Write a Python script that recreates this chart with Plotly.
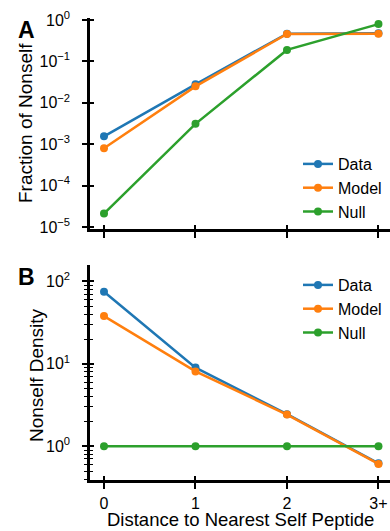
import plotly.graph_objects as go

categories = ["0", "1", "2", "3+"]
xpos = [0, 1, 2, 3]

frac_data = [1.55e-3, 0.028, 0.47, 0.48]
frac_model = [8.0e-4, 0.025, 0.46, 0.47]
frac_null = [2.1e-5, 3.1e-3, 0.19, 0.80]

dens_data = [75, 9.0, 2.45, 0.62]
dens_model = [38, 8.1, 2.42, 0.61]
dens_null = [1, 1, 1, 1]

fracA_tickvals = [1e-5, 1e-4, 1e-3, 1e-2, 1e-1, 1]
fracA_ticktext = ["10<sup>−5</sup>", "10<sup>−4</sup>", "10<sup>−3</sup>",
                  "10<sup>−2</sup>", "10<sup>−1</sup>", "10<sup>0</sup>"]
densB_tickvals = [1, 10, 100]
densB_ticktext = ["10<sup>0</sup>", "10<sup>1</sup>", "10<sup>2</sup>"]

colors = {"Data": "#1f77b4", "Model": "#ff7f0e", "Null": "#2ca02c"}

W, H = 390, 531
ML, MR, MT, MB = 90, 0, 18, 51
PW, PH = W - ML - MR, H - MT - MB


def px_x(px):
    return (px - ML) / PW


def px_y(py):
    return (H - MB - py) / PH


domA = [px_y(229), 1.0]
domB = [0.0, px_y(265)]
xrange_ = [-0.153, 3.126]

FONT = "Liberation Sans, Arial, sans-serif"
fig = go.Figure()

for name, vals in [("Data", frac_data), ("Model", frac_model), ("Null", frac_null)]:
    fig.add_trace(go.Scatter(x=xpos, y=vals, mode="lines+markers", name=name,
                             line=dict(color=colors[name], width=2.5),
                             marker=dict(size=8, color=colors[name]),
                             xaxis="x", yaxis="y", legend="legend",
                             legendgroup="a" + name))
for name, vals in [("Data", dens_data), ("Model", dens_model), ("Null", dens_null)]:
    fig.add_trace(go.Scatter(x=xpos, y=vals, mode="lines+markers", name=name,
                             line=dict(color=colors[name], width=2.5),
                             marker=dict(size=8, color=colors[name]),
                             xaxis="x2", yaxis="y2", legend="legend2",
                             legendgroup="b" + name))
fig.add_trace(go.Scatter(x=[None], y=[None], xaxis="x3", yaxis="y3", showlegend=False))
fig.add_trace(go.Scatter(x=[None], y=[None], xaxis="x4", yaxis="y4", showlegend=False))

tickfont = dict(family=FONT, size=16, color="black")
axcommon = dict(showgrid=False, zeroline=False, linecolor="black", linewidth=2.5,
                tickcolor="black", tickwidth=2, tickfont=tickfont)
ovcommon = dict(showticklabels=False, showline=False, showgrid=False, zeroline=False,
                ticks="inside", ticklen=4, tickcolor="black", tickwidth=2)


def label(text, x, y, size, angle=0, bold=False):
    return dict(text=f"<b>{text}</b>" if bold else text, x=px_x(x), y=px_y(y),
                xref="paper", yref="paper", xanchor="center", yanchor="middle",
                textangle=angle, showarrow=False,
                font=dict(family=FONT, size=size, color="black"))


fig.update_layout(
    width=W, height=H,
    margin=dict(l=ML, r=MR, t=MT, b=MB),
    paper_bgcolor="white", plot_bgcolor="white",
    font=dict(family=FONT, size=16, color="black"),
    xaxis=dict(domain=[0, 1], anchor="y", range=xrange_, tickvals=xpos, ticktext=categories,
               showticklabels=False, showline=True, ticks="outside", ticklen=6, **axcommon),
    yaxis=dict(domain=domA, anchor="x", type="log", range=[-5.05, 0.05],
               tickvals=fracA_tickvals, ticktext=fracA_ticktext, ticklabelstandoff=9,
               showline=True, ticks="outside", ticklen=5, **axcommon),
    xaxis2=dict(domain=[0, 1], anchor="y2", range=xrange_, tickvals=xpos, ticktext=categories,
                showline=True, ticks="outside", ticklen=6, ticklabelstandoff=1,
                ticklabeloverflow="allow", **axcommon),
    yaxis2=dict(domain=domB, anchor="x2", type="log", range=[-0.41, 2.2],
                tickvals=densB_tickvals, ticktext=densB_ticktext, ticklabelstandoff=9,
                showline=True, ticks="outside", ticklen=5,
                minor=dict(ticks="outside", ticklen=3, tickwidth=1, tickcolor="black", dtick="D1"),
                **axcommon),
    xaxis3=dict(overlaying="x", anchor="y3", range=xrange_, tickvals=xpos, **ovcommon),
    yaxis3=dict(overlaying="y", anchor="x3", type="log", range=[-5.05, 0.05],
                tickvals=fracA_tickvals, **ovcommon),
    xaxis4=dict(overlaying="x2", anchor="y4", range=xrange_, tickvals=xpos, **ovcommon),
    yaxis4=dict(overlaying="y2", anchor="x4", type="log", range=[-0.41, 2.2],
                tickvals=densB_tickvals,
                minor=dict(ticks="inside", ticklen=3, tickwidth=1, tickcolor="black", dtick="D1"),
                **ovcommon),
    legend=dict(x=px_x(298), y=px_y(147), xanchor="left", yanchor="top",
                bgcolor="rgba(0,0,0,0)", font=dict(family=FONT, size=16),
                tracegroupgap=0, itemwidth=30),
    legend2=dict(x=px_x(298), y=px_y(268), xanchor="left", yanchor="top",
                 bgcolor="rgba(0,0,0,0)", font=dict(family=FONT, size=16),
                 tracegroupgap=0, itemwidth=30),
    annotations=[
        label("A", 26, 30, 23, bold=True),
        label("B", 26, 277, 23, bold=True),
        label("Fraction of Nonself", 25, 123, 19, angle=-90),
        label("Nonself Density", 36, 375, 19, angle=-90),
        label("Distance to Nearest Self Peptide", 240, 519, 18.5),
    ],
)

fig.write_html(
    "out.html",
    config={"displayModeBar": False},
    post_script="document.body.style.margin='0';document.body.style.overflow='hidden';",
)
